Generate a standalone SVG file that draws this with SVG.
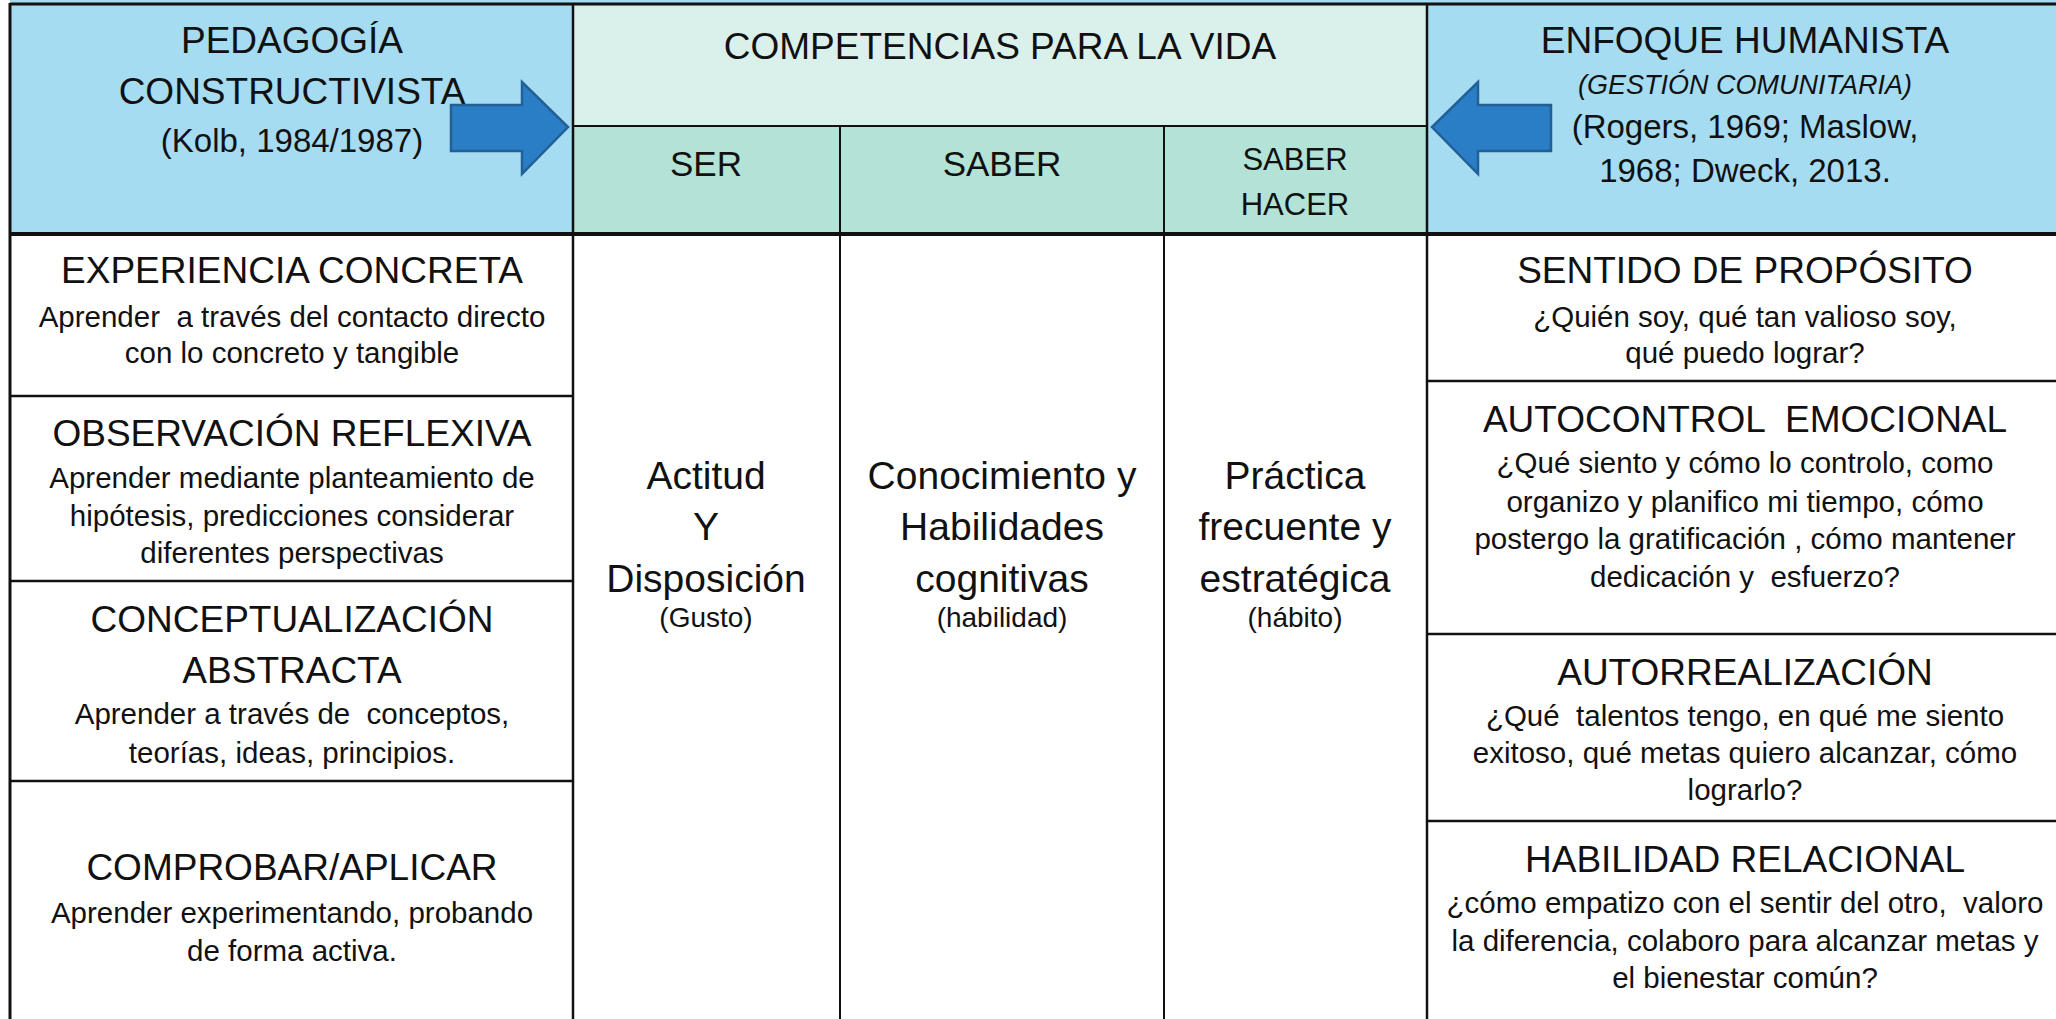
<svg xmlns="http://www.w3.org/2000/svg" width="2056" height="1019" viewBox="0 0 2056 1019" xml:space="preserve">
<style>
text{font-family:"Liberation Sans",Arial,sans-serif;fill:#111;text-anchor:middle;white-space:pre}
.h{font-size:37px}
.b{font-size:29.5px}
.c{font-size:33px}
.it{font-size:27px;font-style:italic}
.m{font-size:39px}
.n{font-size:28px}
.sh{font-size:35px}
.ss{font-size:31px}
.ln{stroke:#111;fill:none}
.arrow{fill:#2a7ec6;stroke:#225f96;stroke-width:2.5;stroke-linejoin:miter}
</style>
<rect x="0" y="0" width="2056" height="1019" fill="#ffffff"/>
<g id="fills">
<rect x="10" y="0" width="2046" height="4" fill="#a6dcf2"/>
<rect x="10" y="4" width="563" height="230" fill="#a6dcf2"/>
<rect x="1427" y="4" width="629" height="230" fill="#a6dcf2"/>
<rect x="573" y="4" width="854" height="122" fill="#daf0eb"/>
<rect x="573" y="126" width="854" height="108" fill="#b3e3d6"/>
</g>
<g id="grid">
<line class="ln" x1="10" y1="4" x2="2056" y2="4" stroke-width="3"/>
<line class="ln" x1="10" y1="3" x2="10" y2="1019" stroke-width="3"/>
<line class="ln" x1="573" y1="4" x2="573" y2="1019" stroke-width="2.5"/>
<line class="ln" x1="1427" y1="4" x2="1427" y2="1019" stroke-width="2.5"/>
<line class="ln" x1="573" y1="126" x2="1427" y2="126" stroke-width="2"/>
<line class="ln" x1="840" y1="126" x2="840" y2="1019" stroke-width="2"/>
<line class="ln" x1="1164" y1="126" x2="1164" y2="1019" stroke-width="2"/>
<line class="ln" x1="10" y1="234" x2="2056" y2="234" stroke-width="4"/>
<line class="ln" x1="10" y1="396" x2="573" y2="396" stroke-width="2.5"/>
<line class="ln" x1="10" y1="581" x2="573" y2="581" stroke-width="2.5"/>
<line class="ln" x1="10" y1="781" x2="573" y2="781" stroke-width="2.5"/>
<line class="ln" x1="1427" y1="381" x2="2056" y2="381" stroke-width="2.5"/>
<line class="ln" x1="1427" y1="634" x2="2056" y2="634" stroke-width="2.5"/>
<line class="ln" x1="1427" y1="821" x2="2056" y2="821" stroke-width="2.5"/>
</g>
<g id="header-left">
<text class="h" x="292" y="53">PEDAGOGÍA</text>
<text class="h" x="292" y="104">CONSTRUCTIVISTA</text>
<text class="c" x="292" y="152">(Kolb, 1984/1987)</text>
</g>
<g id="header-middle">
<text class="h" x="1000" y="59">COMPETENCIAS PARA LA VIDA</text>
</g>
<g id="header-ser"><text class="sh" x="706" y="176">SER</text></g>
<g id="header-saber"><text class="sh" x="1002" y="176">SABER</text></g>
<g id="header-saber-hacer">
<text class="ss" x="1295" y="170">SABER</text>
<text class="ss" x="1295" y="215">HACER</text>
</g>
<g id="header-right">
<text class="h" x="1745" y="53">ENFOQUE HUMANISTA</text>
<text class="it" x="1745" y="94">(GESTIÓN COMUNITARIA)</text>
<text class="c" x="1745" y="138">(Rogers, 1969; Maslow,</text>
<text class="c" x="1745" y="182">1968; Dweck, 2013.</text>
</g>
<g id="connectors">
<polygon class="arrow" points="451,105 522,105 522,82 568,127 522,174 522,151 451,151"/>
<polygon class="arrow" points="1551,105 1478,105 1478,82 1432,127 1478,174 1478,151 1551,151"/>
</g>
<g id="experiencia-concreta">
<text class="h" x="292" y="283">EXPERIENCIA CONCRETA</text>
<text class="b" x="292" y="327" xml:space="preserve">Aprender  a través del contacto directo</text>
<text class="b" x="292" y="363">con lo concreto y tangible</text>
</g>
<g id="observacion-reflexiva">
<text class="h" x="292" y="446">OBSERVACIÓN REFLEXIVA</text>
<text class="b" x="292" y="488">Aprender mediante planteamiento de</text>
<text class="b" x="292" y="526">hipótesis, predicciones considerar</text>
<text class="b" x="292" y="563">diferentes perspectivas</text>
</g>
<g id="conceptualizacion-abstracta">
<text class="h" x="292" y="632">CONCEPTUALIZACIÓN</text>
<text class="h" x="292" y="683">ABSTRACTA</text>
<text class="b" x="292" y="724" xml:space="preserve">Aprender a través de  conceptos,</text>
<text class="b" x="292" y="763">teorías, ideas, principios.</text>
</g>
<g id="comprobar-aplicar">
<text class="h" x="292" y="880">COMPROBAR/APLICAR</text>
<text class="b" x="292" y="923">Aprender experimentando, probando</text>
<text class="b" x="292" y="961">de forma activa.</text>
</g>
<g id="ser">
<text class="m" x="706" y="489">Actitud</text>
<text class="m" x="706" y="540">Y</text>
<text class="m" x="706" y="592">Disposición</text>
<text class="n" x="706" y="627">(Gusto)</text>
</g>
<g id="saber">
<text class="m" x="1002" y="489">Conocimiento y</text>
<text class="m" x="1002" y="540">Habilidades</text>
<text class="m" x="1002" y="592">cognitivas</text>
<text class="n" x="1002" y="627">(habilidad)</text>
</g>
<g id="saber-hacer">
<text class="m" x="1295" y="489">Práctica</text>
<text class="m" x="1295" y="540">frecuente y</text>
<text class="m" x="1295" y="592">estratégica</text>
<text class="n" x="1295" y="627">(hábito)</text>
</g>
<g id="sentido-proposito">
<text class="h" x="1745" y="283">SENTIDO DE PROPÓSITO</text>
<text class="b" x="1745" y="327">¿Quién soy, qué tan valioso soy,</text>
<text class="b" x="1745" y="363">qué puedo lograr?</text>
</g>
<g id="autocontrol-emocional">
<text class="h" x="1745" y="432" xml:space="preserve">AUTOCONTROL  EMOCIONAL</text>
<text class="b" x="1745" y="473">¿Qué siento y cómo lo controlo, como</text>
<text class="b" x="1745" y="512">organizo y planifico mi tiempo, cómo</text>
<text class="b" x="1745" y="549">postergo la gratificación , cómo mantener</text>
<text class="b" x="1745" y="587" xml:space="preserve">dedicación y  esfuerzo?</text>
</g>
<g id="autorrealizacion">
<text class="h" x="1745" y="685">AUTORREALIZACIÓN</text>
<text class="b" x="1745" y="726" xml:space="preserve">¿Qué  talentos tengo, en qué me siento</text>
<text class="b" x="1745" y="763">exitoso, qué metas quiero alcanzar, cómo</text>
<text class="b" x="1745" y="800">lograrlo?</text>
</g>
<g id="habilidad-relacional">
<text class="h" x="1745" y="872">HABILIDAD RELACIONAL</text>
<text class="b" x="1745" y="913" xml:space="preserve">¿cómo empatizo con el sentir del otro,  valoro</text>
<text class="b" x="1745" y="951">la diferencia, colaboro para alcanzar metas y</text>
<text class="b" x="1745" y="988">el bienestar común?</text>
</g>
</svg>
